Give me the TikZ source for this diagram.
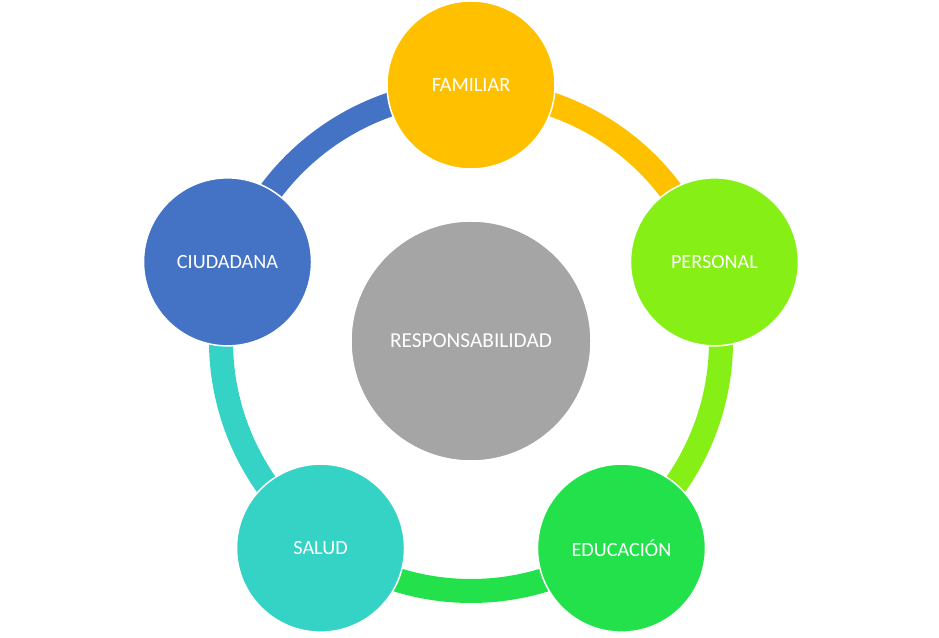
\documentclass[tikz,border=0pt]{standalone}
\usepackage{fontspec}
\setmainfont{Carlito}
\definecolor{cyellow}{HTML}{FFC000}
\definecolor{clime}{HTML}{86EF15}
\definecolor{cgreen}{HTML}{22E14B}
\definecolor{cteal}{HTML}{35D3C6}
\definecolor{cblue}{HTML}{4472C4}
\definecolor{cgray}{HTML}{A5A5A5}
\begin{document}
\begin{tikzpicture}[x=1pt,y=1pt,
  outer/.style={circle,draw=white,line width=1.5pt,minimum size=168pt,inner sep=0pt,text=white,font=\fontsize{20.2}{24}\selectfont},
  hub/.style={circle,draw=white,line width=1.5pt,minimum size=240pt,inner sep=0pt,text=white,font=\fontsize{21.3}{25}\selectfont},
  ring/.style={line width=24pt}]
\useasboundingbox (0,0) rectangle (939,637);
\coordinate (O) at (471,296);
% ring arcs
\draw[ring,cyellow] ([shift={(90:250)}]O) arc[start angle=90,end angle=18,radius=250];
\draw[ring,clime] ([shift={(18:250)}]O) arc[start angle=18,end angle=-54,radius=250];
\draw[ring,cgreen] ([shift={(-54:250)}]O) arc[start angle=-54,end angle=-126,radius=250];
\draw[ring,cteal] ([shift={(-126:250)}]O) arc[start angle=-126,end angle=-198,radius=250];
\draw[ring,cblue] ([shift={(162:250)}]O) arc[start angle=162,end angle=90,radius=250];
% circles
\node[hub,fill=cgray] (resp) at (O) {RESPONSABILIDAD};
\node[outer,fill=cyellow] (fam) at ([shift={(90:256)}]O) {FAMILIAR};
\node[outer,fill=clime] (per) at ([shift={(18:256)}]O) {PERSONAL};
\node[outer,fill=cgreen] (edu) at ([shift={(-54:256)}]O) {EDUCACIÓN};
\node[outer,fill=cteal] (sal) at ([shift={(-126:256)}]O) {SALUD};
\node[outer,fill=cblue] (ciu) at ([shift={(162:256)}]O) {CIUDADANA};
\end{tikzpicture}
\end{document}
